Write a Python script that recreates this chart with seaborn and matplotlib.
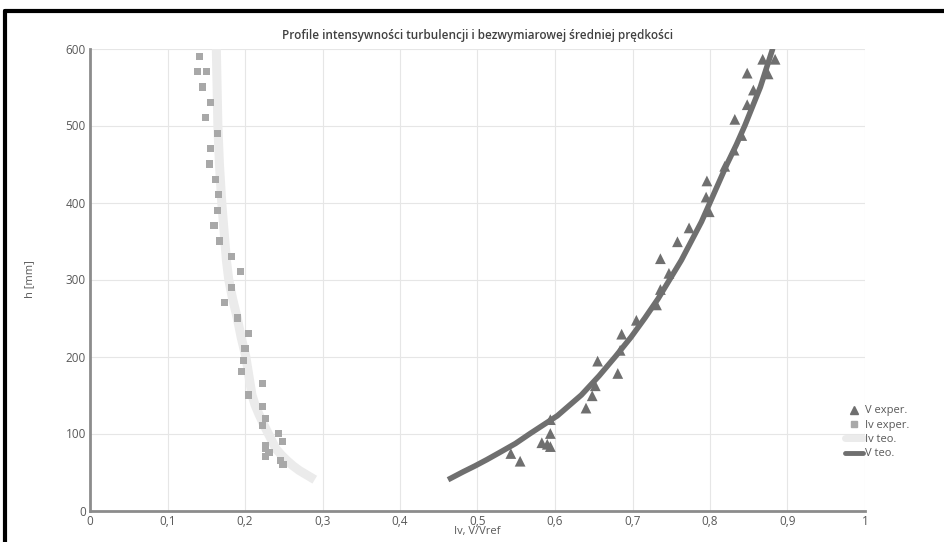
import numpy as np
import pandas as pd
import matplotlib
matplotlib.use('Agg')
import matplotlib.pyplot as plt
from matplotlib.lines import Line2D
from matplotlib.ticker import FuncFormatter
import seaborn as sns

# -------------------------
# Data
# -------------------------
iv_exp_x = [0.141, 0.139, 0.150, 0.145, 0.155, 0.149, 0.165, 0.156, 0.154, 0.162,
            0.166, 0.165, 0.160, 0.167, 0.182, 0.194, 0.182, 0.173, 0.190, 0.204,
            0.200, 0.198, 0.195, 0.223, 0.204, 0.222, 0.226, 0.222, 0.243, 0.248,
            0.227, 0.227, 0.231, 0.227, 0.246, 0.249]
iv_exp_h = [590, 570, 570, 550, 530, 510, 490, 470, 450, 430,
            410, 390, 370, 350, 330, 310, 290, 270, 250, 230,
            210, 195, 180, 165, 150, 135, 120, 110, 100, 90,
            85, 80, 75, 70, 65, 60]

v_exp_x = [0.543, 0.555, 0.583, 0.594, 0.594, 0.590, 0.594, 0.640, 0.648, 0.652,
           0.655, 0.681, 0.684, 0.686, 0.705, 0.731, 0.736, 0.747, 0.736, 0.758,
           0.773, 0.796, 0.795, 0.799, 0.819, 0.831, 0.832, 0.841, 0.848, 0.856,
           0.848, 0.875, 0.868, 0.884]
v_exp_h = [74, 64, 88, 100, 83, 86, 118, 133, 149, 162,
           194, 178, 208, 229, 247, 267, 287, 308, 327, 349,
           367, 428, 407, 388, 447, 468, 508, 487, 527, 546,
           568, 567, 586, 586]

iv_teo_x = [0.290, 0.280, 0.270, 0.262, 0.254, 0.247, 0.240, 0.235, 0.230, 0.224,
            0.218, 0.213, 0.209, 0.205, 0.201, 0.195, 0.190, 0.184, 0.179, 0.176,
            0.174, 0.170, 0.167, 0.165, 0.164, 0.163]
iv_teo_h = [40, 46, 52, 58, 65, 72, 80, 90, 100, 112,
            125, 137, 150, 175, 200, 225, 250, 275, 300, 325,
            350, 400, 450, 500, 550, 600]

v_teo_x = [0.462, 0.481, 0.497, 0.512, 0.528, 0.549, 0.568, 0.603, 0.634, 0.657,
           0.678, 0.698, 0.716, 0.733, 0.748, 0.763, 0.776, 0.789, 0.800, 0.811,
           0.822, 0.834, 0.845, 0.855, 0.865, 0.873, 0.881]
v_teo_h = [40, 50, 58, 66, 75, 87, 100, 123, 150, 175,
           200, 225, 250, 275, 300, 325, 350, 375, 400, 425,
           450, 475, 500, 525, 550, 575, 600]

df_iv = pd.DataFrame({'x': iv_exp_x, 'h': iv_exp_h})
df_v = pd.DataFrame({'x': v_exp_x, 'h': v_exp_h})
df_ivt = pd.DataFrame({'x': iv_teo_x, 'h': iv_teo_h})
df_vt = pd.DataFrame({'x': v_teo_x, 'h': v_teo_h})

# -------------------------
# Styling
# -------------------------
sns.set_style('whitegrid', {'grid.color': '#e6e6e6', 'axes.edgecolor': '#8c8c8c'})
plt.rcParams['font.family'] = ['Open Sans', 'DejaVu Sans']

c_sq = '#a8a8a8'
c_tri = '#6f6f6f'
c_ivt = '#ebebeb'
c_vt = '#6f6f6f'

fig = plt.figure(figsize=(9.45, 5.42), dpi=100)
ax = fig.add_axes([90 / 945, 1 - 510.5 / 542, 775 / 945, 462 / 542])

sns.lineplot(data=df_ivt, x='x', y='h', sort=False, color=c_ivt, lw=6.5,
             solid_capstyle='butt', solid_joinstyle='round', ax=ax, zorder=2)
sns.scatterplot(data=df_iv, x='x', y='h', marker='s', s=26, color=c_sq,
                edgecolor='none', ax=ax, zorder=3)
sns.lineplot(data=df_vt, x='x', y='h', sort=False, color=c_vt, lw=4,
             solid_capstyle='butt', solid_joinstyle='round', ax=ax, zorder=4)
sns.scatterplot(data=df_v, x='x', y='h', marker='^', s=60, color=c_tri,
                edgecolor='none', ax=ax, zorder=5)

ax.set_xlim(0, 1)
ax.set_ylim(0, 600)
ax.set_xticks(np.arange(0, 1.01, 0.1))
ax.set_yticks(np.arange(0, 601, 100))
ax.xaxis.set_major_formatter(FuncFormatter(lambda v, p: ('%g' % round(v, 1)).replace('.', ',')))
ax.tick_params(labelsize=8.5, colors='#595959', length=0, pad=3)

for s in ['top', 'right']:
    ax.spines[s].set_visible(False)
for s in ['left', 'bottom']:
    ax.spines[s].set_linewidth(2)
    ax.spines[s].set_color('#8c8c8c')
ax.grid(True, lw=0.8)

ax.set_title('Profile intensywności turbulencji i bezwymiarowej średniej prędkości',
             fontsize=8.5, color='#404040', pad=7, fontweight='semibold')
ax.set_xlabel('Iv, V/Vref', fontsize=8, color='#595959', labelpad=-1)
ax.set_ylabel('h [mm]', fontsize=8, color='#595959', labelpad=22)

handles = [
    Line2D([], [], marker='^', ls='none', color=c_tri, markersize=6),
    Line2D([], [], marker='s', ls='none', color=c_sq, markersize=5),
    Line2D([], [], color=c_ivt, lw=5),
    Line2D([], [], color=c_vt, lw=3.5),
]
labels = ['V exper.', 'Iv exper.', 'Iv teo.', 'V teo.']
fig.legend(handles, labels, loc='upper left', bbox_to_anchor=(841 / 945, 1 - 401 / 542),
           frameon=False, fontsize=8, handlelength=1.6, handletextpad=0.2,
           labelspacing=0.3, borderaxespad=0, labelcolor='#595959')

# outer black frame of the screenshot
fig.add_artist(Line2D([5 / 945, 1], [1 - 11 / 542, 1 - 11 / 542], color='black', lw=3,
                      transform=fig.transFigure))
fig.add_artist(Line2D([5 / 945, 5 / 945], [0, 1 - 11 / 542], color='black', lw=3,
                      transform=fig.transFigure))

fig.savefig('out.png', dpi=100)
